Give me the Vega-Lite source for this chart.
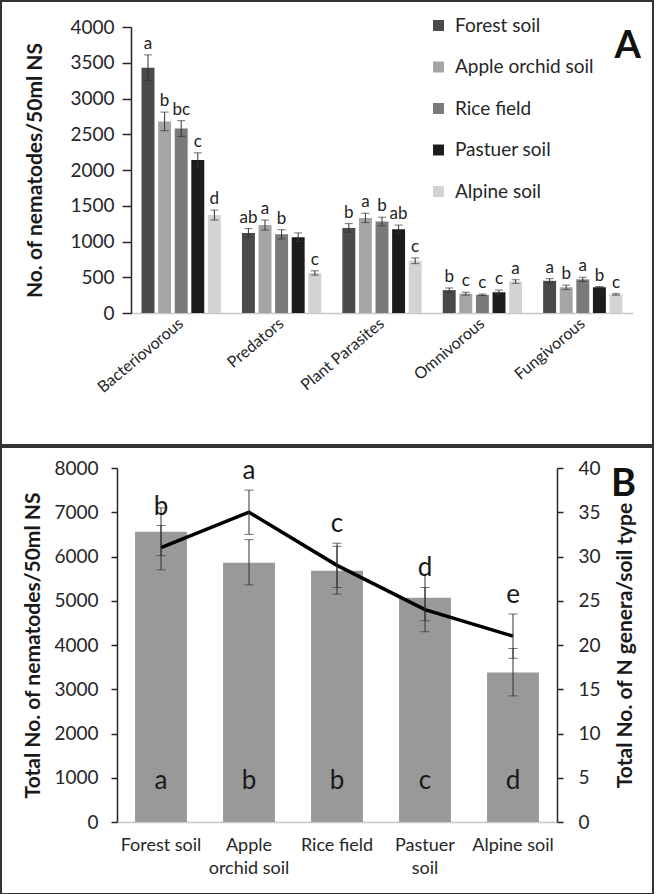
{
  "$schema": "https://vega.github.io/schema/vega-lite/v6.json",
  "background": "white",
  "padding": 0,
  "spacing": 0,
  "config": {
    "view": {"stroke": "#333333", "strokeWidth": 2},
    "font": "Lato",
    "axis": {"labelFont": "Lato", "titleFont": "Lato", "labelColor": "#262626", "titleColor": "#1a1a1a", "grid": false, "domainColor": "#262626", "tickColor": "#262626", "domainWidth": 1.5, "tickWidth": 1.5},
    "legend": {"labelFont": "Lato"},
    "title": {"font": "Lato"}
  },
  "vconcat": [
    {
      "width": 652,
      "height": 444,
      "title": {"text": "A", "anchor": "end", "frame": "group", "fontSize": 38, "fontWeight": "bold", "color": "#111111", "offset": 0, "dy": 65, "dx": -12},
      "data": {"values": [
        {"group": "Bacteriovorous", "soil": "Forest soil", "mean": 3430, "lower": 3250, "upper": 3610, "letter": "a"},
        {"group": "Bacteriovorous", "soil": "Apple orchid soil", "mean": 2680, "lower": 2550, "upper": 2810, "letter": "b"},
        {"group": "Bacteriovorous", "soil": "Rice field", "mean": 2580, "lower": 2470, "upper": 2690, "letter": "bc"},
        {"group": "Bacteriovorous", "soil": "Pastuer soil", "mean": 2140, "lower": 2040, "upper": 2240, "letter": "c"},
        {"group": "Bacteriovorous", "soil": "Alpine soil", "mean": 1370, "lower": 1300, "upper": 1440, "letter": "d"},
        {"group": "Predators", "soil": "Forest soil", "mean": 1120, "lower": 1060, "upper": 1180, "letter": "ab"},
        {"group": "Predators", "soil": "Apple orchid soil", "mean": 1230, "lower": 1160, "upper": 1300, "letter": "a"},
        {"group": "Predators", "soil": "Rice field", "mean": 1100, "lower": 1035, "upper": 1165, "letter": "b"},
        {"group": "Predators", "soil": "Pastuer soil", "mean": 1060, "lower": 1000, "upper": 1120, "letter": ""},
        {"group": "Predators", "soil": "Alpine soil", "mean": 560, "lower": 530, "upper": 590, "letter": "c"},
        {"group": "Plant Parasites", "soil": "Forest soil", "mean": 1190, "lower": 1130, "upper": 1250, "letter": "b"},
        {"group": "Plant Parasites", "soil": "Apple orchid soil", "mean": 1330, "lower": 1265, "upper": 1395, "letter": "a"},
        {"group": "Plant Parasites", "soil": "Rice field", "mean": 1280, "lower": 1220, "upper": 1340, "letter": "b"},
        {"group": "Plant Parasites", "soil": "Pastuer soil", "mean": 1170, "lower": 1110, "upper": 1230, "letter": "ab"},
        {"group": "Plant Parasites", "soil": "Alpine soil", "mean": 730, "lower": 690, "upper": 770, "letter": "c"},
        {"group": "Omnivorous", "soil": "Forest soil", "mean": 320, "lower": 290, "upper": 350, "letter": "b"},
        {"group": "Omnivorous", "soil": "Apple orchid soil", "mean": 270, "lower": 250, "upper": 290, "letter": "c"},
        {"group": "Omnivorous", "soil": "Rice field", "mean": 255, "lower": 245, "upper": 265, "letter": "c"},
        {"group": "Omnivorous", "soil": "Pastuer soil", "mean": 290, "lower": 260, "upper": 320, "letter": "c"},
        {"group": "Omnivorous", "soil": "Alpine soil", "mean": 440, "lower": 415, "upper": 465, "letter": "a"},
        {"group": "Fungivorous", "soil": "Forest soil", "mean": 450, "lower": 420, "upper": 480, "letter": "a"},
        {"group": "Fungivorous", "soil": "Apple orchid soil", "mean": 360, "lower": 330, "upper": 390, "letter": "b"},
        {"group": "Fungivorous", "soil": "Rice field", "mean": 470, "lower": 440, "upper": 500, "letter": "a"},
        {"group": "Fungivorous", "soil": "Pastuer soil", "mean": 360, "lower": 350, "upper": 370, "letter": "b"},
        {"group": "Fungivorous", "soil": "Alpine soil", "mean": 260, "lower": 250, "upper": 270, "letter": "c"}
      ]},
      "encoding": {
        "x": {"field": "group", "type": "nominal", "sort": ["Bacteriovorous", "Predators", "Plant Parasites", "Omnivorous", "Fungivorous"],
          "scale": {"range": [130, 632], "paddingInner": 0.21, "paddingOuter": 0.105},
          "axis": {"orient": "bottom", "offset": -132, "title": null, "labelAngle": -40, "labelAlign": "right", "labelBaseline": "middle", "labelFontSize": 16, "labelPadding": 8, "ticks": false, "domainColor": "#c8c8c8", "domainWidth": 1.5}},
        "xOffset": {"field": "soil", "type": "nominal", "sort": ["Forest soil", "Apple orchid soil", "Rice field", "Pastuer soil", "Alpine soil"], "scale": {"paddingInner": 0.22}}
      },
      "layer": [
        {
          "mark": {"type": "bar"},
          "encoding": {
            "y": {"field": "mean", "type": "quantitative", "scale": {"domain": [0, 4000], "range": [312, 26]},
              "axis": {"orient": "left", "offset": -130, "values": [0, 500, 1000, 1500, 2000, 2500, 3000, 3500, 4000], "format": "d", "title": "No. of nematodes/50ml NS", "titleFontSize": 21, "titleFontWeight": "bold", "titlePadding": 24, "labelFontSize": 19, "tickSize": 9, "labelPadding": 8}},
            "color": {"field": "soil", "type": "nominal",
              "scale": {"domain": ["Forest soil", "Apple orchid soil", "Rice field", "Pastuer soil", "Alpine soil"], "range": ["#4a4a4a", "#a5a5a5", "#7a7a7a", "#1c1c1c", "#d3d3d3"]},
              "legend": {"orient": "none", "legendX": 428, "legendY": 15, "title": null, "symbolType": "square", "symbolSize": 120, "symbolStrokeWidth": 0, "labelFontSize": 19, "labelColor": "#262626", "labelOffset": 7, "rowPadding": 21.5}}
          }
        },
        {
          "mark": {"type": "rule", "color": "#333333", "strokeWidth": 1},
          "encoding": {"y": {"field": "lower", "type": "quantitative", "scale": {"domain": [0, 4000], "range": [312, 26]}}, "y2": {"field": "upper"}}
        },
        {
          "mark": {"type": "tick", "color": "#333333", "size": 8, "thickness": 1},
          "encoding": {"y": {"field": "upper", "type": "quantitative", "scale": {"domain": [0, 4000], "range": [312, 26]}}}
        },
        {
          "mark": {"type": "tick", "color": "#333333", "size": 8, "thickness": 1},
          "encoding": {"y": {"field": "lower", "type": "quantitative", "scale": {"domain": [0, 4000], "range": [312, 26]}}}
        },
        {
          "mark": {"type": "text", "baseline": "bottom", "dy": -2, "fontSize": 17, "color": "#222222"},
          "encoding": {"y": {"field": "upper", "type": "quantitative", "scale": {"domain": [0, 4000], "range": [312, 26]}}, "text": {"field": "letter"}}
        }
      ]
    },
    {
      "width": 652,
      "height": 447,
      "title": {"text": "B", "anchor": "end", "frame": "group", "fontSize": 38, "fontWeight": "bold", "color": "#111111", "offset": 0, "dy": 57, "dx": -17},
      "data": {"values": [
        {"soil": "Forest soil", "total": 6560, "total_lo": 6020, "total_hi": 7100, "genera": 31, "gen_lo": 28.5, "gen_hi": 33.5, "top_letter": "b", "bottom_letter": "a"},
        {"soil": "Apple orchid soil", "total": 5860, "total_lo": 5360, "total_hi": 6380, "genera": 35, "gen_lo": 32.5, "gen_hi": 37.5, "top_letter": "a", "bottom_letter": "b"},
        {"soil": "Rice field", "total": 5680, "total_lo": 5150, "total_hi": 6230, "genera": 29, "gen_lo": 26.5, "gen_hi": 31.5, "top_letter": "c", "bottom_letter": "b"},
        {"soil": "Pastuer soil", "total": 5070, "total_lo": 4550, "total_hi": 5600, "genera": 24, "gen_lo": 21.5, "gen_hi": 26.5, "top_letter": "d", "bottom_letter": "c"},
        {"soil": "Alpine soil", "total": 3380, "total_lo": 2850, "total_hi": 3920, "genera": 21, "gen_lo": 18.5, "gen_hi": 23.5, "top_letter": "e", "bottom_letter": "d"}
      ]},
      "encoding": {
        "x": {"field": "soil", "type": "nominal", "sort": ["Forest soil", "Apple orchid soil", "Rice field", "Pastuer soil", "Alpine soil"],
          "scale": {"range": [116, 556], "paddingInner": 0.41, "paddingOuter": 0.205},
          "axis": {"orient": "bottom", "offset": -72, "title": null, "labelAngle": 0, "labelFontSize": 18, "labelPadding": 14, "labelLineHeight": 23, "ticks": false, "domainColor": "#c8c8c8", "domainWidth": 1.5,
            "labelExpr": "datum.label == 'Apple orchid soil' ? ['Apple', 'orchid soil'] : (datum.label == 'Pastuer soil' ? ['Pastuer', 'soil'] : datum.label)"}}
      },
      "layer": [
        {
          "layer": [
            {
              "mark": {"type": "bar", "color": "#999999"},
              "encoding": {"y": {"field": "total", "type": "quantitative", "scale": {"domain": [0, 8000], "range": [375, 21]},
                "axis": {"orient": "left", "offset": -116, "values": [0, 1000, 2000, 3000, 4000, 5000, 6000, 7000, 8000], "format": "d", "title": "Total No. of nematodes/50ml NS", "titleFontSize": 21, "titleFontWeight": "bold", "titlePadding": 10, "labelFontSize": 19, "tickSize": 6, "labelPadding": 13}}}
            },
            {
              "mark": {"type": "rule", "color": "#333333", "strokeWidth": 1},
              "encoding": {"y": {"field": "total_lo", "type": "quantitative", "scale": {"domain": [0, 8000], "range": [375, 21]}}, "y2": {"field": "total_hi"}}
            },
            {
              "mark": {"type": "tick", "color": "#333333", "size": 9, "thickness": 1},
              "encoding": {"y": {"field": "total_hi", "type": "quantitative", "scale": {"domain": [0, 8000], "range": [375, 21]}}}
            },
            {
              "mark": {"type": "tick", "color": "#333333", "size": 9, "thickness": 1},
              "encoding": {"y": {"field": "total_lo", "type": "quantitative", "scale": {"domain": [0, 8000], "range": [375, 21]}}}
            },
            {
              "mark": {"type": "text", "baseline": "bottom", "dy": -28, "fontSize": 26, "color": "#1a1a1a"},
              "encoding": {"y": {"datum": 0, "type": "quantitative", "scale": {"domain": [0, 8000], "range": [375, 21]}}, "text": {"field": "bottom_letter"}}
            }
          ]
        },
        {
          "layer": [
            {
              "mark": {"type": "line", "color": "#000000", "strokeWidth": 3.5},
              "encoding": {"y": {"field": "genera", "type": "quantitative", "scale": {"domain": [0, 40], "range": [375, 21]},
                "axis": {"orient": "right", "offset": -96, "values": [0, 5, 10, 15, 20, 25, 30, 35, 40], "title": "Total No. of N genera/soil type", "titleAngle": -90, "titleBaseline": "top", "titleFontSize": 21, "titleFontWeight": "bold", "titlePadding": 14, "labelFontSize": 19, "tickSize": 6, "labelPadding": 15}}}
            },
            {
              "mark": {"type": "rule", "color": "#333333", "strokeWidth": 1},
              "encoding": {"y": {"field": "gen_lo", "type": "quantitative", "scale": {"domain": [0, 40], "range": [375, 21]}}, "y2": {"field": "gen_hi"}}
            },
            {
              "mark": {"type": "tick", "color": "#333333", "size": 9, "thickness": 1},
              "encoding": {"y": {"field": "gen_hi", "type": "quantitative", "scale": {"domain": [0, 40], "range": [375, 21]}}}
            },
            {
              "mark": {"type": "tick", "color": "#333333", "size": 9, "thickness": 1},
              "encoding": {"y": {"field": "gen_lo", "type": "quantitative", "scale": {"domain": [0, 40], "range": [375, 21]}}}
            },
            {
              "mark": {"type": "text", "baseline": "bottom", "dy": -6, "fontSize": 26, "color": "#1a1a1a"},
              "encoding": {"y": {"field": "gen_hi", "type": "quantitative", "scale": {"domain": [0, 40], "range": [375, 21]}}, "text": {"field": "top_letter"}}
            }
          ]
        }
      ],
      "resolve": {"scale": {"y": "independent"}}
    }
  ]
}
